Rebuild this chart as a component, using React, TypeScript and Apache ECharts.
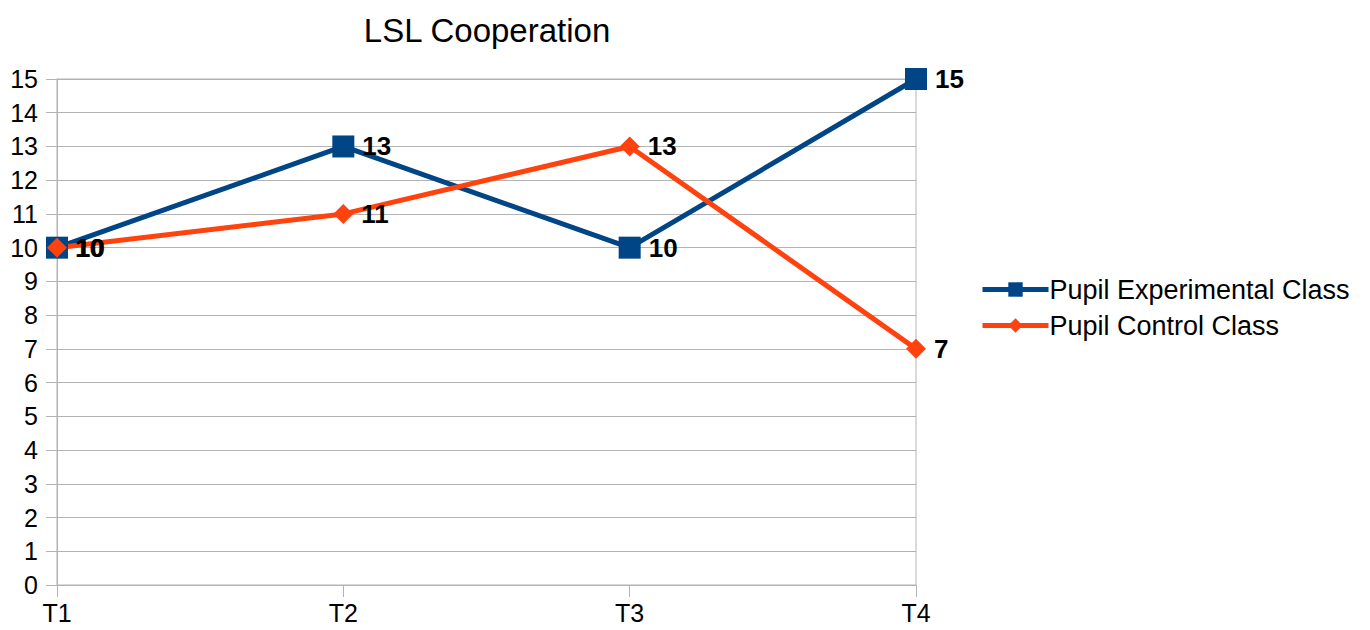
import React, { useEffect, useRef } from "react";
import * as echarts from "echarts";

const categories = ["T1", "T2", "T3", "T4"];
const experimental = [10, 13, 10, 15];
const control = [10, 11, 13, 7];
const seriesNames = ["Pupil Experimental Class", "Pupil Control Class"];
const title = "LSL Cooperation";

export default function App() {
  const ref = useRef<HTMLDivElement>(null);
  useEffect(() => {
    if (!ref.current) return;
    const chart = echarts.init(ref.current, null, { renderer: "svg" });
    const font = "'Liberation Sans', Arial, sans-serif";
    const gridColor = "#b3b3b3";
    const label = {
      show: true,
      position: "right" as const,
      distance: 8,
      fontFamily: font,
      fontSize: 26,
      fontWeight: "bold" as const,
      color: "#000",
    };
    chart.setOption({
      animation: false,
      title: {
        text: title,
        left: 482,
        textAlign: "center",
        top: 9,
        textStyle: { fontFamily: font, fontSize: 33, fontWeight: "normal", color: "#000" },
      },
      legend: {
        orient: "vertical",
        left: 975,
        top: 271,
        itemWidth: 66,
        itemHeight: 18,
        itemGap: 9,
        itemStyle: { borderWidth: 0 },
        lineStyle: { width: 5 },
        textStyle: { fontFamily: font, fontSize: 27, color: "#000", padding: [0, 0, 0, -4] },
        data: seriesNames,
      },
      grid: {
        left: 57,
        right: 454,
        top: 79,
        bottom: 45,
        show: true,
        borderColor: gridColor,
        borderWidth: 1,
        backgroundColor: "transparent",
      },
      xAxis: {
        type: "category",
        data: categories,
        boundaryGap: false,
        axisLine: { show: true, lineStyle: { color: gridColor, width: 1 } },
        axisTick: { show: true, length: 12, lineStyle: { color: gridColor } },
        axisLabel: { fontFamily: font, fontSize: 25, color: "#000", margin: 15 },
        splitLine: { show: false },
      },
      yAxis: {
        type: "value",
        min: 0,
        max: 15,
        interval: 1,
        axisLine: { show: true, lineStyle: { color: gridColor, width: 1 } },
        axisTick: { show: true, length: 11, lineStyle: { color: gridColor } },
        axisLabel: { fontFamily: font, fontSize: 25, color: "#000", margin: 19 },
        splitLine: { show: true, lineStyle: { color: gridColor, width: 1 } },
      },
      series: [
        {
          name: seriesNames[0],
          type: "line",
          data: experimental,
          symbol: "rect",
          symbolSize: 22,
          lineStyle: { color: "#004586", width: 5 },
          itemStyle: { color: "#004586" },
          label,
        },
        {
          name: seriesNames[1],
          type: "line",
          data: control,
          symbol: "diamond",
          symbolSize: 20,
          lineStyle: { color: "#ff420e", width: 5 },
          itemStyle: { color: "#ff420e" },
          label,
        },
      ],
    });
    return () => chart.dispose();
  }, []);
  return (
    <div
      ref={ref}
      style={{ position: "fixed", left: 0, top: 0, width: 1370, height: 630, background: "#fff" }}
    />
  );
}
